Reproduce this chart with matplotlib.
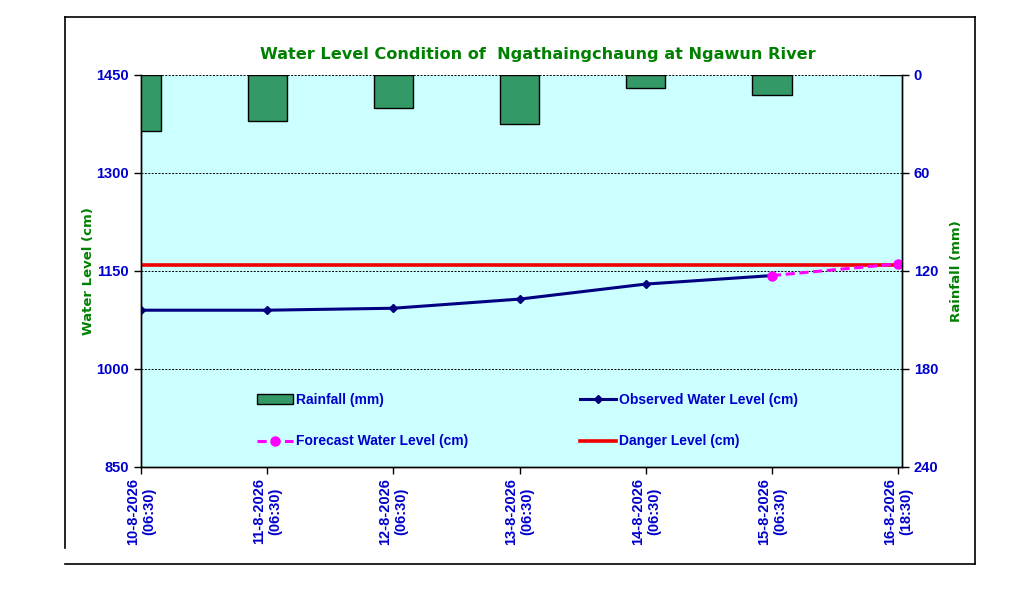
import matplotlib
matplotlib.use('Agg')
import matplotlib.pyplot as plt
from matplotlib.lines import Line2D

# data
dates = ['10-8-2026\n(06:30)', '11-8-2026\n(06:30)', '12-8-2026\n(06:30)',
         '13-8-2026\n(06:30)', '14-8-2026\n(06:30)', '15-8-2026\n(06:30)',
         '16-8-2026\n(18:30)']
rainfall_mm = [34.5, 28.4, 20.4, 30.2, 8.2, 12.4, 0.0]
observed_cm = [1090, 1090, 1093, 1107, 1130, 1143]
forecast_cm = [1143, 1161]
danger_cm = 1159

PLOT_BG = '#ccffff'
BAR_FILL = '#339966'
TICK_BLUE = '#0000cc'
GREEN = '#008000'
NARROW = ['Liberation Sans Narrow', 'Liberation Sans', 'DejaVu Sans']

fig = plt.figure(figsize=(10.31, 6.15), dpi=100)
ax = fig.add_axes([141 / 1031, 1 - 467 / 615, (902 - 141) / 1031, (467 - 75) / 615])
ax.set_facecolor(PLOT_BG)
ax2 = ax.twinx()

x = list(range(len(dates)))

# rainfall bars hanging from the top (inverted right axis)
ax2.bar(x, rainfall_mm, width=0.31, color=BAR_FILL, edgecolor='black',
        linewidth=1.0, label='Rainfall (mm)', zorder=2)
ax2.set_ylim(240, 0)
ax2.set_yticks([0, 60, 120, 180, 240])

# water levels
ax.axhline(danger_cm, color='#ee0000', linewidth=2.6, zorder=3)
ax.plot(x[:len(observed_cm)], observed_cm, color='#000080', linewidth=2.2,
        marker='D', markersize=4.5, zorder=4)
ax.plot(x[len(observed_cm) - 1:], forecast_cm, color='#ff00ff', linewidth=2.2,
        linestyle=(0, (3, 1.5)), marker='o', markersize=6.5, zorder=5)

ax.set_ylim(850, 1450)
ax.set_yticks([850, 1000, 1150, 1300, 1450])
ax.set_xlim(0, 6.03)
ax.set_xticks(x)
ax.set_xticklabels(dates, rotation=90, va='top', ha='center',
                   multialignment='center')

for g in [1000, 1150, 1300, 1450]:
    ax.axhline(g, color='black', linewidth=0.7, linestyle=(0, (2, 1.5)), zorder=1)

for a in (ax, ax2):
    a.spines['top'].set_visible(False)
    for s in ('left', 'right', 'bottom'):
        a.spines[s].set_linewidth(1.0)
    a.tick_params(direction='out', length=5, width=1.0, colors='black',
                  labelcolor=TICK_BLUE)
    for lab in a.get_yticklabels() + a.get_xticklabels():
        lab.set_fontfamily(NARROW)
        lab.set_fontweight('bold')
        lab.set_fontsize(10.5)
ax.tick_params(axis='x', pad=3)

ax.set_ylabel('Water Level (cm)', color=GREEN, fontsize=9.5,
              fontweight='bold', labelpad=1)
ax2.set_ylabel('Rainfall (mm)', color=GREEN, fontsize=9.5,
               fontweight='bold', labelpad=8)

fig.text(538 / 1031, 1 - 54 / 615,
         'Water Level Condition of  Ngathaingchaung at Ngawun River',
         ha='center', va='center', color=GREEN, fontsize=11.6,
         fontweight='bold')

# legend: filled column-wise, so order is rain, forecast, observed, danger
handles = [
    plt.Rectangle((0, 0), 1, 1, facecolor=BAR_FILL, edgecolor='black', linewidth=1.0),
    Line2D([], [], color='#ff00ff', linewidth=2.2, linestyle=(0, (3, 1.5)),
           marker='o', markersize=6.5),
    Line2D([], [], color='#000080', linewidth=2.2, marker='D', markersize=4.5),
    Line2D([], [], color='#ee0000', linewidth=2.6),
]
labels = ['Rainfall (mm)', 'Forecast Water Level (cm)',
          'Observed Water Level (cm)', 'Danger Level (cm)']
leg = ax2.legend(handles, labels, ncol=2, frameon=False,
                 loc='upper left', bbox_to_anchor=(0.145, 0.204),
                 handlelength=2.6, handletextpad=0.25, columnspacing=8.0,
                 labelspacing=2.0, borderaxespad=0,
                 prop={'family': 'Liberation Sans', 'weight': 'bold', 'size': 10})
for t in leg.get_texts():
    t.set_color(TICK_BLUE)

# outer frame lines around the chart area
frame = dict(color='black', linewidth=1.2, transform=fig.transFigure)
def fx(px):
    return px / 1031
def fy(py):
    return 1 - py / 615
fig.add_artist(Line2D([fx(65), fx(975)], [fy(17), fy(17)], **frame))
fig.add_artist(Line2D([fx(65), fx(65)], [fy(17), fy(548)], **frame))
fig.add_artist(Line2D([fx(975), fx(975)], [fy(17), fy(564)], **frame))
fig.add_artist(Line2D([fx(65), fx(975)], [fy(564), fy(564)], **frame))

fig.savefig('out.png', dpi=100, facecolor='white')
